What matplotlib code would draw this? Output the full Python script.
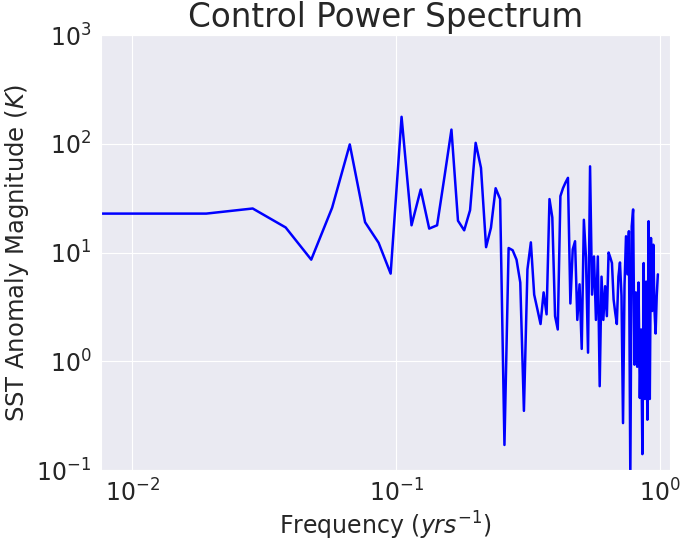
import numpy as np
import matplotlib
matplotlib.use("Agg")
import matplotlib.pyplot as plt
import seaborn as sns

# spectrum of the control run, 105-year record
n_years = 105
power = [
    22.8, 22.8, 22.8, 25.4, 17.0, 8.6, 25.8, 98.6, 19.0, 12.3,
    6.4, 177.0, 17.8, 38.0, 16.6, 17.8, 50.0, 135.0, 19.6, 16.0,
    24.5, 102.0, 60.0, 11.2, 16.9, 39.0, 31.0, 0.17, 11.0, 10.5,
    8.6, 5.3, 0.35, 7.0, 12.4, 4.1, 3.0, 2.2, 4.3, 2.7,
    31.0, 21.0, 2.6, 1.96, 33.0, 39.0, 44.0, 48.6, 3.4, 10.7,
    12.7, 2.4, 5.1, 1.3, 20.0, 9.0, 1.2, 62.0, 4.1, 9.2,
    2.4, 9.2, 0.59, 6.0, 2.4, 4.9, 2.6, 10.0, 9.0, 8.0,
    3.7, 2.8, 2.2, 6.0, 8.1, 4.0, 0.27, 5.0, 14.1, 6.3,
    15.7, 0.085, 17.4, 24.9, 0.93, 4.3, 0.89, 5.3, 0.46, 1.96,
    0.14, 8.0, 0.45, 5.4, 0.29, 19.4, 0.45, 13.6, 2.9, 11.8,
    3.0, 1.8, 4.0, 6.3,
]
freq = np.arange(len(power)) / n_years  # first entry is the mean (f = 0)

sns.set_style("darkgrid")
plt.rcParams["font.family"] = ["DejaVu Sans"]

fig = plt.figure(figsize=(6.85, 5.43), dpi=100)
ax = fig.add_axes([0.1474, 0.1344, 0.8306, 0.8011])

ax.plot(freq, power, color="#0000FF", linewidth=1.8)
ax.set_xscale("log")
ax.set_yscale("log")
ax.set_xlim(0.0076, 1.09)
ax.set_ylim(0.1, 1000)
ax.minorticks_off()

ax.set_title("Control Power Spectrum", fontsize=23.5, color="#262626")
ax.set_xlabel(r"Frequency ($yrs^{-1}$)", fontsize=17, color="#262626", labelpad=2)
ax.set_ylabel(r"SST Anomaly Magnitude ($K$)", fontsize=17.5, color="#262626", labelpad=4)
ax.tick_params(labelsize=17, labelcolor="#262626", length=0, pad=7)

fig.savefig("out.png", dpi=100)
